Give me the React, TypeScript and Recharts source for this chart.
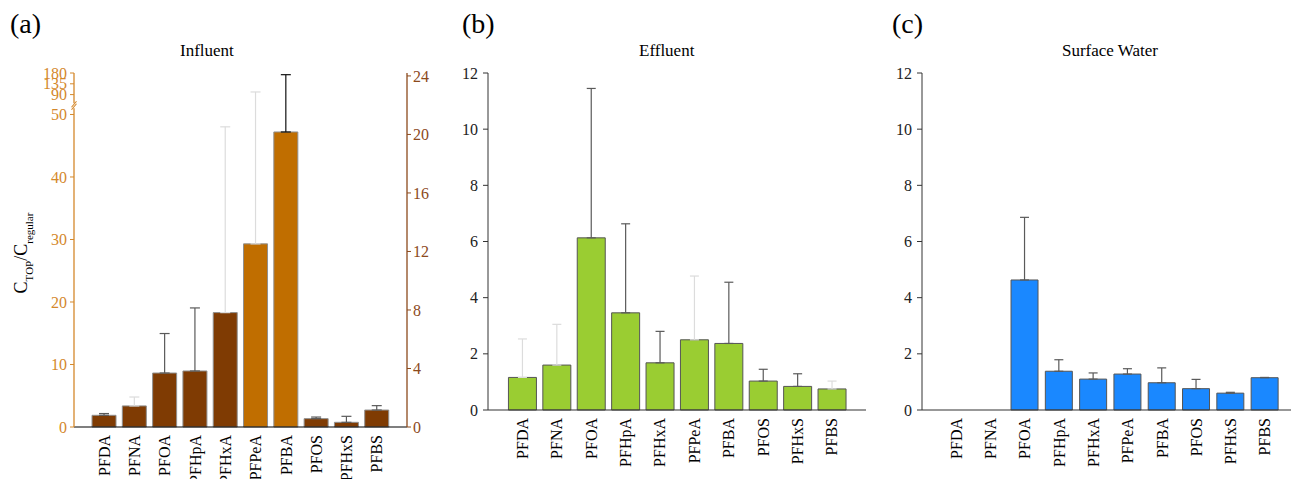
import { ComposedChart, Bar, XAxis, YAxis, ErrorBar } from 'recharts'

const categories = ['PFDA', 'PFNA', 'PFOA', 'PFHpA', 'PFHxA', 'PFPeA', 'PFBA', 'PFOS', 'PFHxS', 'PFBS']

// (a) Influent: most compounds on the right axis, PFPeA / PFBA on the (broken) left axis
const influentRight = [0.8, 1.44, 3.69, 3.83, 7.82, null, null, 0.57, 0.32, 1.16]
const influentLeft = [null, null, null, null, null, 29.3, 47.2, null, null, null]
const influentSd = [0.12, 0.61, 2.7, 4.31, 12.7, 71.7, 125.8, 0.11, 0.41, 0.3]
const influentTone = ['dark', 'light', 'dark', 'dark', 'light', 'light', 'black', 'dark', 'dark', 'dark']

// (b) Effluent
const effluentMean = [1.16, 1.6, 6.13, 3.46, 1.68, 2.5, 2.37, 1.03, 0.84, 0.75]
const effluentSd = [1.37, 1.45, 5.32, 3.17, 1.12, 2.27, 2.18, 0.42, 0.45, 0.28]
const effluentTone = ['light', 'light', 'dark', 'dark', 'dark', 'light', 'dark', 'dark', 'dark', 'light']

// (c) Surface water
const surfaceMean = [0, 0, 4.63, 1.38, 1.1, 1.28, 0.97, 0.76, 0.6, 1.15]
const surfaceSd = [0, 0, 2.23, 0.41, 0.22, 0.19, 0.53, 0.33, 0.03, 0.01]
const surfaceTone = ['dark', 'dark', 'dark', 'dark', 'dark', 'dark', 'dark', 'dark', 'dark', 'dark']

const rightTicks = [0, 4, 8, 12, 16, 20, 24]
const lowerTicks = [0, 10, 20, 30, 40, 50]
const upperTicks = [90, 135, 180]
const effTicks = [0, 2, 4, 6, 8, 10, 12]

// broken left axis: to scale up to 50, then a compressed segment above the break
const BREAK_LOW = 50
const BREAK_MARK = 51.4
const UPPER_FROM = 90
const UPPER_POS = 53.18
const UPPER_RATE = 0.0384
const brk = (v: number) => (v <= BREAK_LOW ? v : UPPER_POS + (v - UPPER_FROM) * UPPER_RATE)
const leftTicks = [...lowerTicks, BREAK_MARK, ...upperTicks.map(brk)]
const leftTickLabel = new Map<number, string>([
  ...lowerTicks.map((t) => [t, String(t)] as [number, string]),
  ...upperTicks.map((t) => [brk(t), String(t)] as [number, string]),
])

const serif = '"Liberation Serif", "Times New Roman", serif'
const BROWN = '#7f3b03'
const ORANGE = '#c06e00'
const LEFT_AXIS = '#d4882b'
const RIGHT_AXIS = '#8c4a1c'
const GREEN = '#9acd32'
const BLUE = '#1a88ff'
const ERR = { dark: '#5a5a5a', light: '#dcdcdc', black: '#111111' }

const tones = (prefix: string, tone: string, up: number) => ({
  [`${prefix}dark`]: tone === 'dark' ? [0, up] : null,
  [`${prefix}light`]: tone === 'light' ? [0, up] : null,
  [`${prefix}black`]: tone === 'black' ? [0, up] : null,
})

const influentRows = categories.map((name, i) => {
  const l = influentLeft[i]
  const r = influentRight[i]
  const sd = influentSd[i]
  if (l != null) return { name, left: l, right: null, ...tones('l', influentTone[i], brk(l + sd) - l) }
  return { name, left: null, right: r, ...tones('r', influentTone[i], sd) }
})

const rowsOf = (mean: number[], sd: number[], tone: string[]) =>
  categories.map((name, i) => ({ name, v: mean[i], ...tones('e', tone[i], sd[i]) }))

const effluentRows = rowsOf(effluentMean, effluentSd, effluentTone)
const surfaceRows = rowsOf(surfaceMean, surfaceSd, surfaceTone)

function CatTick({ x, y, payload }: any) {
  return (
    <text x={x} y={y} transform={`rotate(-90 ${x} ${y})`} textAnchor="end" dy="0.35em"
      fontSize={16} fontFamily={serif} fill="#000">
      {payload.value}
    </text>
  )
}

function NumTick({ x, y, payload, textAnchor, color }: any) {
  return (
    <text x={x} y={y} textAnchor={textAnchor} dy="0.35em" fontSize={16} fontFamily={serif} fill={color}>
      {payload.value}
    </text>
  )
}

const LT_SIZE = 4
const LT_MARGIN = 3

function InfluentLeftTick({ x, y, payload }: any) {
  const ax = x + LT_SIZE + LT_MARGIN
  if (payload.value === BREAK_MARK) {
    return (
      <g>
        <rect x={ax - 6} y={y - 2.5} width={9} height={5} fill="#fff" />
        <path d={`M${ax - 2.5},${y + 4} L${ax + 2.5},${y - 2} M${ax - 2.5},${y + 1.5} L${ax + 2.5},${y - 4.5}`}
          stroke={LEFT_AXIS} strokeWidth={1.1} fill="none" />
      </g>
    )
  }
  return (
    <text x={x} y={y} textAnchor="end" dy="0.35em" fontSize={16} fontFamily={serif} fill={LEFT_AXIS}>
      {leftTickLabel.get(payload.value)}
    </text>
  )
}

function YTitle({ viewBox }: any) {
  const x = viewBox.x + 27
  const y = viewBox.y + viewBox.height / 2 + 3
  return (
    <text x={x} y={y} transform={`rotate(-90 ${x} ${y})`} textAnchor="middle" fontFamily={serif} fontSize={18} fill="#000">
      C<tspan fontSize={11} baselineShift="sub">TOP</tspan>/C<tspan fontSize={11} baselineShift="sub">regular</tspan>
    </text>
  )
}

function errorBars(prefix: string, w: number) {
  return (['light', 'dark', 'black'] as const).map((t) => (
    <ErrorBar key={t} dataKey={`${prefix}${t}`} direction="y" width={w} stroke={ERR[t]} strokeWidth={1.2}
      isAnimationActive={false} />
  ))
}

function InfluentChart() {
  return (
    <ComposedChart width={440} height={479} data={influentRows}
      margin={{ top: 73, right: 0, bottom: 0, left: 0 }} barCategoryGap="10%">
      <XAxis dataKey="name" height={52} tick={<CatTick />} tickLine={false} tickSize={0} tickMargin={8}
        axisLine={{ stroke: '#000', strokeWidth: 1.2 }} interval={0} padding={{ left: 15, right: 15 }} />
      <YAxis yAxisId="left" orientation="left" width={74} domain={[0, brk(180)]} ticks={leftTicks} interval={0}
        tick={<InfluentLeftTick />} tickSize={LT_SIZE} tickMargin={LT_MARGIN}
        tickLine={{ stroke: LEFT_AXIS }} axisLine={{ stroke: LEFT_AXIS, strokeWidth: 1.3 }}
        label={<YTitle />} />
      <YAxis yAxisId="right" orientation="right" width={33} domain={[0, 24.2]} ticks={rightTicks} interval={0}
        tickSize={4} tickMargin={2} tick={<NumTick color={RIGHT_AXIS} />}
        tickLine={{ stroke: RIGHT_AXIS }} axisLine={{ stroke: RIGHT_AXIS, strokeWidth: 1.3 }} />
      <Bar yAxisId="right" dataKey="right" stackId="a" fill={BROWN} stroke="#8f8f8f" strokeWidth={1}
        isAnimationActive={false}>
        {errorBars('r', 5)}
      </Bar>
      <Bar yAxisId="left" dataKey="left" stackId="a" fill={ORANGE} stroke="#8f8f8f" strokeWidth={1}
        isAnimationActive={false}>
        {errorBars('l', 5)}
      </Bar>
    </ComposedChart>
  )
}

function SimpleChart({ rows, fill, width, yWidth, right, padRight }: any) {
  return (
    <ComposedChart width={width} height={479} data={rows}
      margin={{ top: 73, right, bottom: 0, left: 0 }} barCategoryGap="10%">
      <XAxis dataKey="name" height={69} tick={<CatTick />} tickLine={false} tickSize={0} tickMargin={8}
        axisLine={{ stroke: '#333', strokeWidth: 1.2 }} interval={0} padding={{ left: 17, right: padRight }} />
      <YAxis width={yWidth} domain={[0, 12]} ticks={effTicks} interval={0} tickSize={5} tickMargin={5}
        tick={<NumTick color="#222" />} tickLine={{ stroke: '#333' }}
        axisLine={{ stroke: '#333', strokeWidth: 1 }} />
      <Bar dataKey="v" fill={fill} stroke="#555" strokeWidth={1} isAnimationActive={false}>
        {errorBars('e', 4.5)}
      </Bar>
    </ComposedChart>
  )
}

const titleStyle: any = { position: 'absolute', fontFamily: serif, fontSize: 17, lineHeight: '20px', whiteSpace: 'nowrap' }
const panelStyle: any = { position: 'absolute', fontFamily: serif, fontSize: 28, lineHeight: '32px' }

export default function App() {
  return (
    <div style={{ position: 'absolute', left: 0, top: 0, width: 1291, height: 479, background: '#fff', overflow: 'hidden' }}>
      <div style={{ position: 'absolute', left: 0, top: 0 }}>
        <InfluentChart />
      </div>
      <div style={{ position: 'absolute', left: 440, top: 0 }}>
        <SimpleChart rows={effluentRows} fill={GREEN} width={440} yWidth={48} right={14} padRight={17} />
      </div>
      <div style={{ position: 'absolute', left: 880, top: 0 }}>
        <SimpleChart rows={surfaceRows} fill={BLUE} width={411} yWidth={42} right={0} padRight={9} />
      </div>
      <div style={{ ...panelStyle, left: 10, top: 8 }}>(a)</div>
      <div style={{ ...panelStyle, left: 462, top: 8 }}>(b)</div>
      <div style={{ ...panelStyle, left: 892, top: 8 }}>(c)</div>
      <div style={{ ...titleStyle, left: 180, top: 41 }}>Influent</div>
      <div style={{ ...titleStyle, left: 639, top: 41 }}>Effluent</div>
      <div style={{ ...titleStyle, left: 1062, top: 41 }}>Surface Water</div>
    </div>
  )
}
